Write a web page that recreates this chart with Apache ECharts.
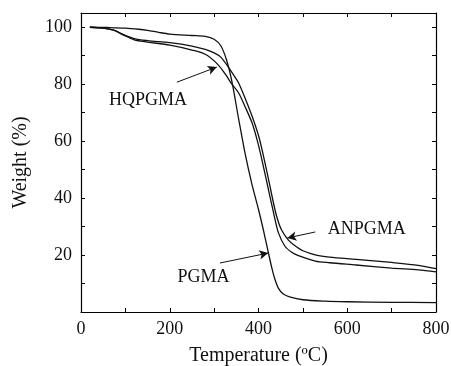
<!DOCTYPE html>
<html><head><meta charset="utf-8">
<script src="https://cdn.jsdelivr.net/npm/echarts@6/dist/echarts.min.js"></script>
<style>html,body{margin:0;padding:0;background:#fff}#c{width:451px;height:366px}</style>
</head><body><div id="c"></div>
<script>
const xTicks = [0, 200, 400, 600, 800];
const yTicks = [20, 40, 60, 80, 100];
const pgma = [[20,100],[60,99.9],[100,99.7],[130,99.3],[150,98.9],[175,98.2],[200,97.6],[250,97.1],[280,96.8],[300,95.8],[315,93.5],[328,88.5],[340,81],[355,68],[370,55.5],[385,45],[400,36],[410,29.5],[422,21],[430,15.5],[437,11.5],[445,8.3],[456,6.3],[470,5.3],[500,4.3],[550,3.8],[600,3.6],[700,3.4],[800,3.3]];
const anpgma = [[20,100],[50,99.7],[75,98.9],[95,97.5],[120,96],[150,95.3],[200,94.6],[250,93.4],[280,92.2],[300,91],[315,89.5],[332,86],[347,82.5],[355,80.5],[370,75],[385,69],[400,62],[408,57],[422,47],[437,36],[445,31.5],[452,28.8],[467,25.3],[480,23.5],[500,21.5],[530,20],[560,19.3],[620,18.5],[700,17.4],[760,16.4],[800,15.2]];
const hqpgma = [[20,100],[50,99.7],[75,98.9],[95,97.3],[120,95.6],[150,94.8],[200,93.7],[250,92],[280,90.5],[306,87.3],[325,83.6],[340,80],[355,77],[370,72],[385,66.6],[395,61.5],[404,56],[419,45.4],[434,34.8],[445,27.8],[460,23],[475,21],[490,19.8],[528,17.9],[560,17.3],[620,16.5],[700,15.4],[760,14.8],[800,14.1]];
const labels = [
  {name:'HQPGMA', pos:[151,74.5], from:[216,80.7], to:[306,86]},
  {name:'ANPGMA', pos:[644,29], from:[528,28.1], to:[465,26]},
  {name:'PGMA', pos:[276,12.3], from:[313,17.2], to:[422,20.7]}
];
const FONT = 'Liberation Serif';
const chart = echarts.init(document.getElementById('c'), null, {renderer:'canvas'});
function axisCommon(){return {
  axisLine:{show:true,onZero:false,lineStyle:{color:'#000',width:1.2}},
  axisTick:{show:true,inside:true,length:4,lineStyle:{color:'#000',width:1}},
  minorTick:{show:true,splitNumber:2,length:4,lineStyle:{color:'#000',width:1}},
  splitLine:{show:false}
};}
const lineStyle = {color:'#111',width:1.3};
function mkSeries(name,data,lab){
  return {name, type:'line', data, smooth:0.3, showSymbol:false, lineStyle, animation:false,
    markLine:{silent:true, symbol:['none','arrow'], symbolSize:[7,9], animation:false,
      lineStyle:{color:'#111',width:1,type:'solid'}, label:{show:false},
      data:[[{coord:lab.from},{coord:lab.to}]]},
    markPoint:{silent:true, symbol:'circle', symbolSize:0, animation:false,
      label:{show:true, position:'inside', formatter:'{b}', color:'#111', fontFamily:FONT, fontSize:18},
      data:[{name:lab.name, coord:lab.pos}]}
  };
}
chart.setOption({
  backgroundColor:'#fff',
  animation:false,
  grid:{left:81,right:15,top:13,bottom:54,containLabel:false,outerBoundsMode:'none'},
  xAxis:[
    Object.assign(axisCommon(),{type:'value',min:0,max:800,interval:200,position:'bottom',
      name:'Temperature (ºC)',nameLocation:'middle',nameGap:34,
      nameTextStyle:{fontFamily:FONT,fontSize:20,color:'#111'},
      axisLabel:{fontFamily:FONT,fontSize:18,color:'#111',margin:8,
        formatter:v=>xTicks.includes(v)?String(v):''}}),
    Object.assign(axisCommon(),{type:'value',min:0,max:800,interval:200,position:'top',axisLabel:{show:false}})
  ],
  yAxis:[
    Object.assign(axisCommon(),{type:'value',min:0,max:105,interval:20,position:'left',
      name:'Weight (%)',nameLocation:'middle',nameGap:50,
      nameTextStyle:{fontFamily:FONT,fontSize:20,color:'#111'},
      axisLabel:{fontFamily:FONT,fontSize:18,color:'#111',margin:9,
        formatter:v=>yTicks.includes(v)?String(v):''}}),
    Object.assign(axisCommon(),{type:'value',min:0,max:105,interval:20,position:'right',axisLabel:{show:false}})
  ],
  series:[
    mkSeries('PGMA',pgma,labels[2]),
    mkSeries('ANPGMA',anpgma,labels[1]),
    mkSeries('HQPGMA',hqpgma,labels[0])
  ]
});
</script></body></html>
